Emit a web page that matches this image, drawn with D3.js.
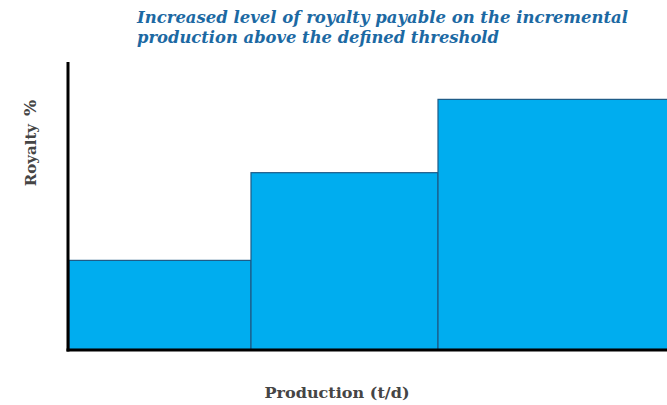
<!DOCTYPE html>
<html><head><meta charset="utf-8">
<script src="https://cdn.jsdelivr.net/npm/d3@7"></script>
<style>body{margin:0;background:#fff}svg{display:block}</style>
</head><body>
<script>
const titleLines = ["Increased level of royalty payable on the incremental", "production above the defined threshold"];
const tierStart = [0, 182, 369];
const tierEnd = [182, 369, 600];
const royalty = [6.2, 12.3, 17.4];
const xLabel = "Production (t/d)";
const yLabelWord = "Royalty";
const yLabelUnit = "%";

const W = 667, H = 405;
const svg = d3.select("body").append("svg").attr("width", W).attr("height", H);
const x = d3.scaleLinear().domain([0, 600]).range([68, 668]);
const y = d3.scaleLinear().domain([0, 20]).range([349.5, 62]);

const data = royalty.map((r, i) => ({s: tierStart[i], e: tierEnd[i], r}));
svg.selectAll("rect.bar").data(data).join("rect").attr("class", "bar")
  .attr("x", d => x(d.s) + 1)
  .attr("width", d => x(d.e) - x(d.s))
  .attr("y", d => y(d.r))
  .attr("height", d => y(0) - y(d.r))
  .attr("fill", "#00adef")
  .attr("stroke", "#1d5a86")
  .attr("stroke-width", 1.2);

// axes
svg.append("line").attr("x1", x(0)).attr("x2", x(0)).attr("y1", 62).attr("y2", 351.5)
  .attr("stroke", "#000").attr("stroke-width", 3);
svg.append("line").attr("x1", x(0) - 1.5).attr("x2", W).attr("y1", y(0) + 0.5).attr("y2", y(0) + 0.5)
  .attr("stroke", "#000").attr("stroke-width", 3);

svg.append("text").attr("font-family", "DejaVu Serif").attr("font-weight", "bold").attr("font-style", "italic")
  .attr("font-size", 16).attr("fill", "#1c69a3")
  .selectAll("tspan").data(titleLines).join("tspan")
  .attr("x", 137).attr("y", (d, i) => 23 + i * 20)
  .attr("textLength", (d, i) => i === 0 ? 491 : 362)
  .attr("lengthAdjust", "spacingAndGlyphs")
  .text(d => d);

const yl = svg.append("text").attr("transform", "translate(36,143) rotate(-90)")
  .attr("text-anchor", "middle").attr("font-family", "DejaVu Serif").attr("font-weight", "bold")
  .attr("fill", "#454545");
yl.append("tspan").attr("font-size", 15).text(yLabelWord);
yl.append("tspan").attr("dx", 8).attr("font-size", 17).text(yLabelUnit);

svg.append("text").attr("x", 337).attr("y", 398)
  .attr("text-anchor", "middle").attr("font-family", "DejaVu Serif").attr("font-weight", "bold")
  .attr("font-size", 15).attr("fill", "#454545")
  .attr("textLength", 145).attr("lengthAdjust", "spacingAndGlyphs").text(xLabel);
</script>
</body></html>
